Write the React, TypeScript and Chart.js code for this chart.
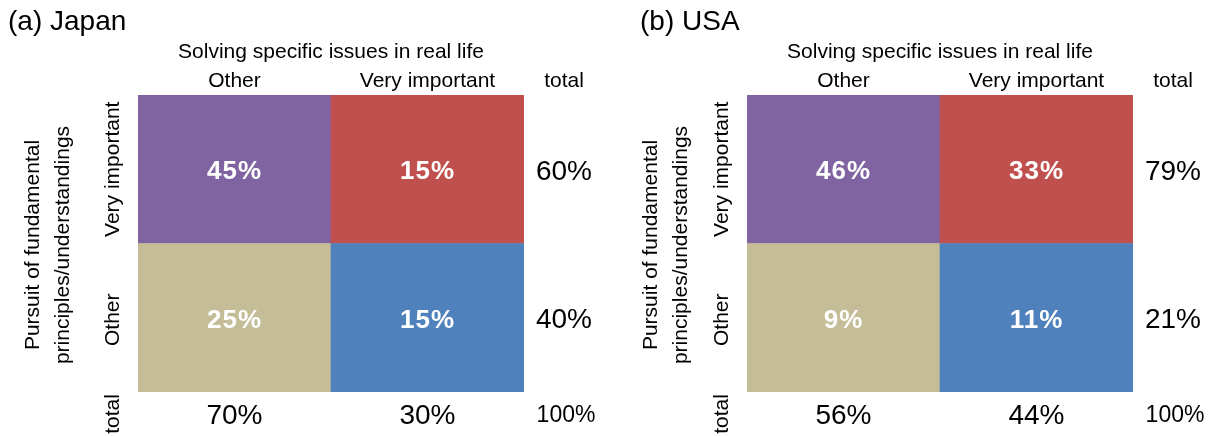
import React, { useEffect, useRef } from "react";
import { Chart, registerables } from "chart.js";

Chart.register(...registerables);

// ---- data ----
const colLabels = ["Other", "Very important"];
const rowLabels = ["Very important", "Other"]; // top row, bottom row
const colTitle = "Solving specific issues in real life";
const rowTitle = ["Pursuit of fundamental", "principles/understandings"];

const japanTitle = "(a) Japan";
const japanTopRow = [45, 15];
const japanBottomRow = [25, 15];
const japanRowTotals = [60, 40];
const japanColTotals = [70, 30];
const japanGrand = 100;

const usaTitle = "(b) USA";
const usaTopRow = [46, 33];
const usaBottomRow = [9, 11];
const usaRowTotals = [79, 21];
const usaColTotals = [56, 44];
const usaGrand = 100;

const cellUnit = [1, 1]; // equal-sized cells

const PURPLE = "#8064A2";
const RED = "#C0504D";
const TAN = "#C4BD97";
const BLUE = "#4F81BD";
const FONT = "'Liberation Sans', Arial, sans-serif";

type PanelProps = {
  title: string;
  topRow: number[];
  bottomRow: number[];
  rowTotals: number[];
  colTotals: number[];
  grand: number;
  padLeft: number;
  padRight: number;
  titleX: number;
  yTitleOffsets: number[];
};

function Panel(p: PanelProps) {
  const ref = useRef<HTMLCanvasElement | null>(null);
  useEffect(() => {
    if (!ref.current) return;
    const textPlugin = {
      id: "heatText",
      afterDraw(chart: any) {
        const ctx = chart.ctx as CanvasRenderingContext2D;
        const xs = chart.scales.x;
        const ys = chart.scales.y;
        const area = chart.chartArea;
        const cx = (area.left + area.right) / 2;
        const yTop = ys.getPixelForValue(1.5);
        const yBot = ys.getPixelForValue(0.5);
        const colX = [xs.getPixelForValue(0), xs.getPixelForValue(1)];
        const totX = area.right + 40;
        const dy = 3;
        ctx.save();
        ctx.fillStyle = "#000";
        ctx.textBaseline = "middle";
        // title
        ctx.textAlign = "left";
        ctx.font = `28px ${FONT}`;
        ctx.fillText(p.title, p.titleX, 22);
        // column axis title
        ctx.textAlign = "center";
        ctx.font = `21px ${FONT}`;
        ctx.fillText(colTitle, cx, 52);
        colLabels.forEach((l, i) => ctx.fillText(l, colX[i], 81));
        ctx.fillText("total", totX, 81);
        // row labels rotated
        const rowLabelX = area.left - 25;
        const drawRot = (t: string, x: number, y: number) => {
          ctx.save();
          ctx.translate(x, y);
          ctx.rotate(-Math.PI / 2);
          ctx.fillText(t, 0, 0);
          ctx.restore();
        };
        drawRot(rowLabels[0], rowLabelX, yTop);
        drawRot(rowLabels[1], rowLabelX, yBot + 2);
        drawRot("total", rowLabelX, 414);
        drawRot(rowTitle[0], area.left + p.yTitleOffsets[0], 245);
        drawRot(rowTitle[1], area.left + p.yTitleOffsets[1], 245);
        // cell values
        ctx.fillStyle = "#fff";
        ctx.font = `bold 26px ${FONT}`;
        (ctx as any).letterSpacing = "1px";
        const metaBottom = chart.getDatasetMeta(0).data;
        const metaTop = chart.getDatasetMeta(1).data;
        p.bottomRow.forEach((v, i) => {
          const el = metaBottom[i];
          ctx.fillText(`${v}%`, el.x, (el.y + el.base) / 2 + dy);
        });
        p.topRow.forEach((v, i) => {
          const el = metaTop[i];
          ctx.fillText(`${v}%`, el.x, (el.y + el.base) / 2 + dy);
        });
        (ctx as any).letterSpacing = "0px";
        // totals
        ctx.fillStyle = "#000";
        ctx.font = `28px ${FONT}`;
        ctx.fillText(`${p.rowTotals[0]}%`, totX, yTop + dy);
        ctx.fillText(`${p.rowTotals[1]}%`, totX, yBot + dy);
        p.colTotals.forEach((v, i) => ctx.fillText(`${v}%`, colX[i], 416));
        ctx.font = `23px ${FONT}`;
        ctx.fillText(`${p.grand}%`, totX + 2, 416);
        ctx.restore();
      },
    };
    const chart = new Chart(ref.current, {
      type: "bar",
      data: {
        labels: colLabels,
        datasets: [
          {
            label: rowLabels[1],
            data: cellUnit,
            backgroundColor: [TAN, BLUE],
            borderWidth: 0,
            categoryPercentage: 1,
            barPercentage: 1,
          },
          {
            label: rowLabels[0],
            data: cellUnit,
            backgroundColor: [PURPLE, RED],
            borderWidth: 0,
            categoryPercentage: 1,
            barPercentage: 1,
          },
        ],
      },
      options: {
        animation: false,
        responsive: false,
        maintainAspectRatio: false,
        layout: { padding: { left: p.padLeft, right: p.padRight, top: 95, bottom: 44 } },
        plugins: { legend: { display: false }, tooltip: { enabled: false }, title: { display: false } },
        scales: {
          x: { display: false, stacked: true },
          y: { display: false, stacked: true, min: 0, max: 2 },
        },
      },
      plugins: [textPlugin],
    });
    return () => chart.destroy();
  }, []);
  return <canvas ref={ref} width={606} height={436} style={{ width: 606, height: 436, display: "block" }} />;
}

export default function App() {
  return (
    <div style={{ position: "absolute", left: 0, top: 0, width: 1212, height: 436, display: "flex", background: "#fff" }}>
      <Panel
        title={japanTitle}
        topRow={japanTopRow}
        bottomRow={japanBottomRow}
        rowTotals={japanRowTotals}
        colTotals={japanColTotals}
        grand={japanGrand}
        padLeft={138}
        padRight={82}
        titleX={8}
        yTitleOffsets={[-105, -75]}
      />
      <Panel
        title={usaTitle}
        topRow={usaTopRow}
        bottomRow={usaBottomRow}
        rowTotals={usaRowTotals}
        colTotals={usaColTotals}
        grand={usaGrand}
        padLeft={141}
        padRight={79}
        titleX={34}
        yTitleOffsets={[-96, -66]}
      />
    </div>
  );
}
